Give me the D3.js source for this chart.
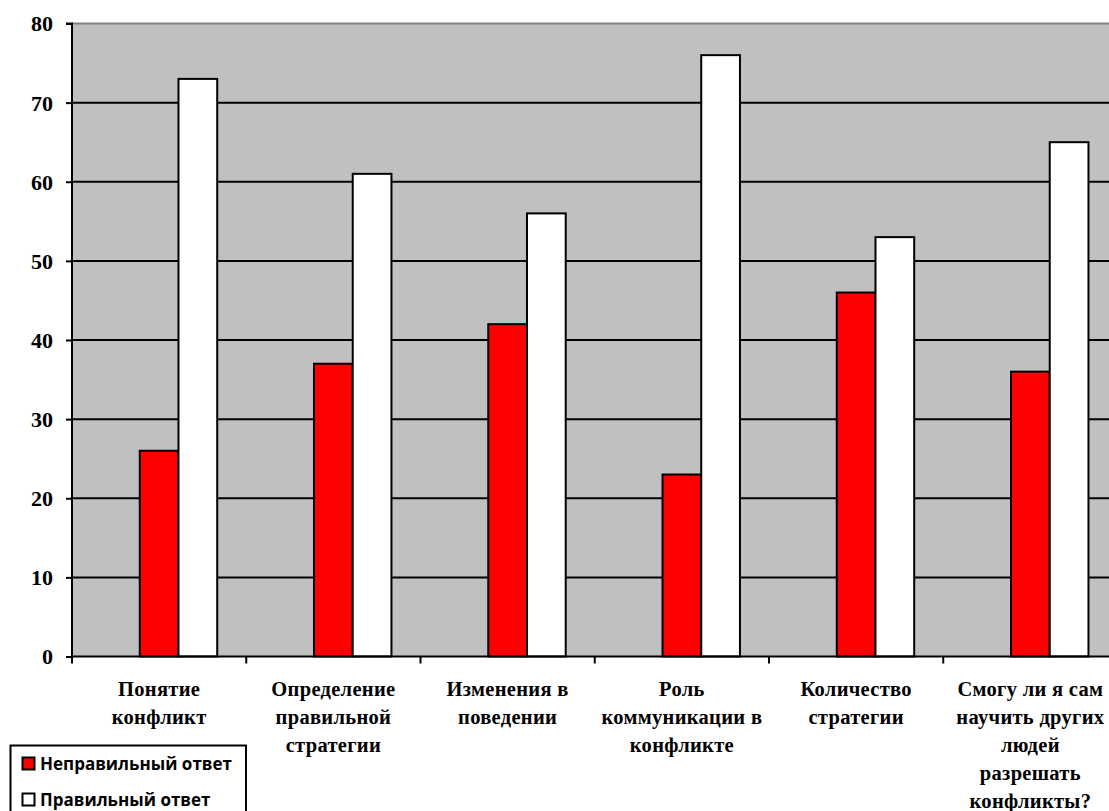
<!DOCTYPE html>
<html>
<head>
<meta charset="utf-8">
<script src="https://cdn.jsdelivr.net/npm/d3@7/dist/d3.min.js"></script>
<style>
  html, body { margin: 0; padding: 0; background: #fff; overflow: hidden; }
  svg { display: block; }
</style>
</head>
<body>
<svg id="chart" width="1109" height="811"></svg>
<script>
// Survey results: share of wrong vs. right answers per topic
const categories = [
  "Понятие конфликт",
  "Определение правильной стратегии",
  "Изменения в поведении",
  "Роль коммуникации в конфликте",
  "Количество стратегии",
  "Смогу ли я сам научить других людей разрешать конфликты?"
];
const categoryLines = [
  ["Понятие", "конфликт"],
  ["Определение", "правильной", "стратегии"],
  ["Изменения в", "поведении"],
  ["Роль", "коммуникации в", "конфликте"],
  ["Количество", "стратегии"],
  ["Смогу ли я сам", "научить других", "людей", "разрешать", "конфликты?"]
];
const seriesNames = ["Неправильный ответ", "Правильный ответ"];
const wrongValues = [26, 37, 42, 23, 46, 36];
const rightValues = [73, 61, 56, 76, 53, 65];
const yTicks = [0, 10, 20, 30, 40, 50, 60, 70, 80];
const seriesColors = ["#FF0000", "#FFFFFF"];

const svg = d3.select("#chart");

const plot = { left: 72, top: 23.5, right: 1117.5, bottom: 656.5 };

// Each category holds three bar slots; the first slot stays empty
const slots = ["", ...seriesNames];

const x = d3.scaleBand().domain(categories).range([plot.left, plot.right]).padding(0);
const xSub = d3.scaleBand().domain(slots).range([0, x.bandwidth()])
  .paddingInner(0).paddingOuter(0.75);
const y = d3.scaleLinear().domain([0, 80]).range([plot.bottom, plot.top]);

// Plot background
svg.append("rect")
  .attr("x", plot.left).attr("y", plot.top)
  .attr("width", plot.right - plot.left).attr("height", plot.bottom - plot.top)
  .attr("fill", "#C0C0C0");

// Top border of plot area
svg.append("line")
  .attr("x1", plot.left).attr("x2", plot.right)
  .attr("y1", y(80)).attr("y2", y(80))
  .attr("stroke", "#808080").attr("stroke-width", 2);

// Horizontal gridlines
svg.append("g")
  .selectAll("line")
  .data(yTicks.filter(t => t > 0 && t < 80))
  .join("line")
  .attr("x1", plot.left).attr("x2", plot.right)
  .attr("y1", d => y(d)).attr("y2", d => y(d))
  .attr("stroke", "#000").attr("stroke-width", 2);

// Bars
const rows = categories.map((c, i) => ({ cat: c, values: [wrongValues[i], rightValues[i]] }));
const groups = svg.append("g").selectAll("g")
  .data(rows)
  .join("g")
  .attr("transform", d => `translate(${x(d.cat)},0)`);

groups.selectAll("rect")
  .data(d => d.values.map((v, k) => ({ series: seriesNames[k], value: v, k })))
  .join("rect")
  .attr("x", d => xSub(d.series))
  .attr("y", d => y(d.value))
  .attr("width", xSub.bandwidth())
  .attr("height", d => y(0) - y(d.value))
  .attr("fill", d => seriesColors[d.k])
  .attr("stroke", "#000")
  .attr("stroke-width", 2);

// Y axis
const yAxis = d3.axisLeft(y).tickValues(yTicks).tickSize(6).tickPadding(13);
const gy = svg.append("g")
  .attr("transform", `translate(${plot.left},0)`)
  .call(yAxis);
gy.select(".domain").attr("stroke", "#000").attr("stroke-width", 2)
  .attr("d", `M-6,${y(80)}H0V${y(0)}`);
gy.selectAll(".tick line").attr("stroke", "#000").attr("stroke-width", 2);
gy.selectAll(".tick text")
  .attr("fill", "#000")
  .attr("dy", "0.34em")
  .style("font-family", "'Liberation Serif', 'Times New Roman', serif")
  .style("font-weight", "bold")
  .style("font-size", "22px");

// X axis line with ticks at category boundaries
svg.append("line")
  .attr("x1", plot.left).attr("x2", plot.right)
  .attr("y1", y(0)).attr("y2", y(0))
  .attr("stroke", "#000").attr("stroke-width", 2);
const boundaries = categories.map(c => x(c)).concat([x.range()[1]]);
svg.append("g").selectAll("line")
  .data(boundaries)
  .join("line")
  .attr("x1", d => d).attr("x2", d => d)
  .attr("y1", y(0)).attr("y2", y(0) + 7)
  .attr("stroke", "#000").attr("stroke-width", 2);

// Category labels
const labels = svg.append("g")
  .style("font-family", "'Liberation Serif', 'Times New Roman', serif")
  .style("font-weight", "bold")
  .style("font-size", "20.5px")
  .style("letter-spacing", "0.3px")
  .attr("text-anchor", "middle")
  .attr("fill", "#000");
categories.forEach((c, i) => {
  const t = labels.append("text")
    .attr("x", x(c) + x.bandwidth() / 2)
    .attr("y", 696);
  categoryLines[i].forEach((line, j) => {
    t.append("tspan")
      .attr("x", x(c) + x.bandwidth() / 2)
      .attr("dy", j === 0 ? 0 : 28)
      .text(line);
  });
});

// Legend
const legend = svg.append("g");
legend.append("rect")
  .attr("x", 10.5).attr("y", 745.5)
  .attr("width", 235.5).attr("height", 80)
  .attr("fill", "#fff").attr("stroke", "#000").attr("stroke-width", 2);
const items = legend.selectAll("g.item")
  .data(seriesNames)
  .join("g")
  .attr("class", "item")
  .attr("transform", (d, i) => `translate(0,${763.5 + i * 36})`);
items.append("rect")
  .attr("x", 22.5).attr("y", -6)
  .attr("width", 12).attr("height", 12)
  .attr("fill", (d, i) => seriesColors[i])
  .attr("stroke", "#000").attr("stroke-width", 2);
items.append("text")
  .attr("x", 40).attr("y", 0)
  .attr("dy", "0.36em")
  .style("font-family", "'Open Sans', 'Noto Sans', sans-serif")
  .style("font-weight", "bold")
  .style("font-size", "17px")
  .attr("fill", "#000")
  .text(d => d);
</script>
</body>
</html>
